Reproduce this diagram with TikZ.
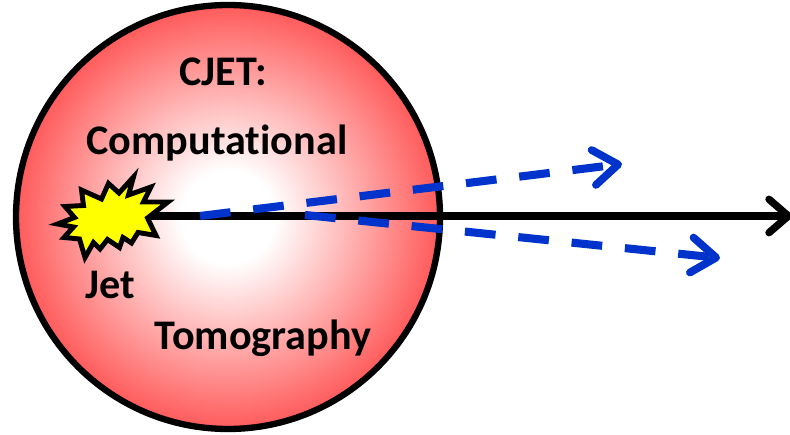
\documentclass[tikz,border=0pt]{standalone}
\usepackage{fontspec}
\setmainfont{Carlito}[Ligatures=NoCommon]
\usetikzlibrary{arrows.meta}
\definecolor{ballred}{HTML}{FF5A5A}
\definecolor{jetblue}{HTML}{0033CC}
\definecolor{flashyellow}{HTML}{FFFF00}
\pgfdeclareradialshading{ballshade}{\pgfpointorigin}{
  color(0bp)=(white); color(5.5bp)=(white); color(25bp)=(ballred); color(50bp)=(ballred)}
\tikzset{
  ball/.style={draw=black, line width=3.6pt, shading=ballshade},
  flash/.style={draw=black, fill=flashyellow, line width=2.8pt, miter limit=10},
  ltext/.style={font=\bfseries\fontsize{24}{28}\selectfont, text=black, inner sep=0pt},
  jetline/.style={draw=black, line width=4.2pt,
                  -{Straight Barb[length=11pt, width=19pt, round, line width=4.2pt]}},
  partonline/.style={draw=jetblue, line width=4.6pt, dash pattern=on 17.5pt off 13pt,
                     -{Straight Barb[length=14pt, width=20pt, round, line width=4.4pt]}},
}
\begin{document}
\begin{tikzpicture}
  % ----- canvas, 790 x 435 at 0.02cm -----
  \useasboundingbox (0,0) rectangle (15.8,8.7);

  % --- medium ---
  \path[ball] (4.56,4.36) circle (4.24);

  % --- end points of the connectors ---
  \coordinate (jetstart) at (2.90,4.38);
  \coordinate (jetend)   at (15.84,4.38);
  \coordinate (upstart)  at (4.00,4.38);
  \coordinate (upend)    at (12.44,5.42);
  \coordinate (downstart) at (6.10,4.40);
  \coordinate (downend)  at (14.40,3.54);

  % --- leading jet and its splittings ---
  \draw[jetline] (jetstart) -- (jetend);
  \draw[partonline] (upstart) -- (upend);
  \draw[partonline] (downstart) -- (downend);

  % --- flash ---
  \draw[flash] (2.67,5.16) -- (2.57,4.80) -- (3.02,4.96) -- (2.87,4.66) -- (3.36,4.66)
    -- (2.95,4.34) -- (3.12,3.99) -- (2.76,4.05) -- (2.63,3.84) -- (2.46,3.95)
    -- (2.39,3.75) -- (2.15,3.91) -- (2.00,3.72) -- (1.87,3.85) -- (1.70,3.55)
    -- (1.59,3.92) -- (1.28,3.95) -- (1.47,4.16) -- (1.15,4.22) -- (1.49,4.35)
    -- (1.30,4.57) -- (1.67,4.59) -- (1.63,4.90) -- (2.03,4.72) -- (2.17,5.03)
    -- (2.38,4.84) -- cycle;

  % --- labels ---
  \node[ltext] (cjet)  at (4.46,7.26) {CJET:};
  \node[ltext] (comp)  at (4.34,5.84) {Computational};
  \node[ltext] (jet)   at (2.20,3.00) {Jet};
  \node[ltext] (tomo)  at (5.26,1.94) {Tomography};
\end{tikzpicture}
\end{document}
